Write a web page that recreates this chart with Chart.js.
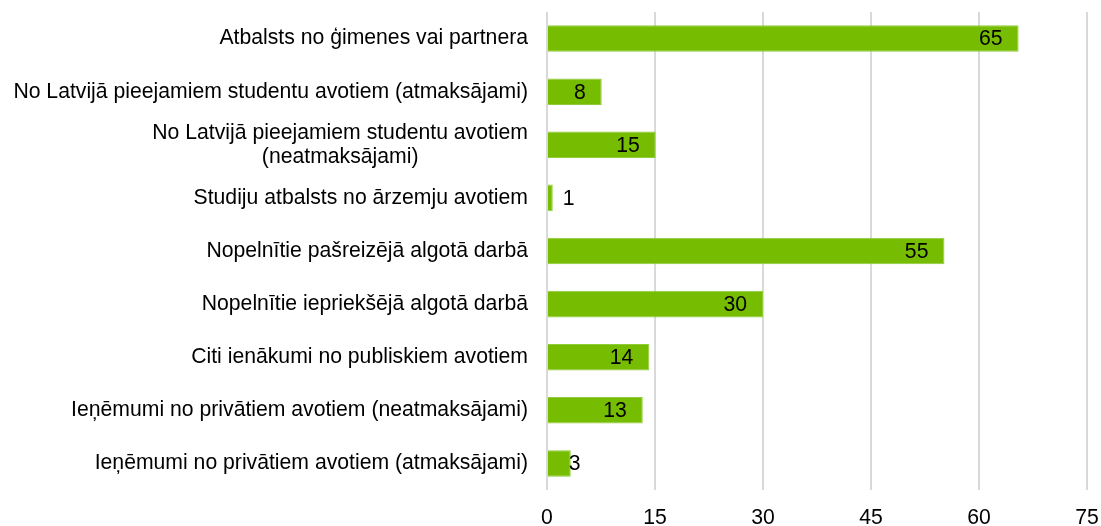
<!DOCTYPE html>
<html>
<head>
<meta charset="utf-8">
<script src="https://cdn.jsdelivr.net/npm/chart.js@4"></script>
<style>
  html, body { margin: 0; padding: 0; background: #fff; }
  #wrap { width: 1101px; height: 526px; }
</style>
</head>
<body>
<div id="wrap"><canvas id="chart" width="1101" height="526"></canvas></div>
<script>
// categories (top to bottom)
const categories = [
    ["Atbalsts no ģimenes vai partnera"],
    ["No Latvijā pieejamiem studentu avotiem (atmaksājami)"],
    ["No Latvijā pieejamiem studentu avotiem", "(neatmaksājami)"],
    ["Studiju atbalsts no ārzemju avotiem"],
    ["Nopelnītie pašreizējā algotā darbā"],
    ["Nopelnītie iepriekšējā algotā darbā"],
    ["Citi ienākumi no publiskiem avotiem"],
    ["Ieņēmumi no privātiem avotiem (neatmaksājami)"],
    ["Ieņēmumi no privātiem avotiem (atmaksājami)"]
];
const values = [65.5, 7.6, 15.1, 0.8, 55.2, 30.0, 14.2, 13.3, 3.3];
const valueLabels = ["65", "8", "15", "1", "55", "30", "14", "13", "3"];
const xTicks = [0, 15, 30, 45, 60, 75];

const FONT = '"Liberation Sans", Arial, sans-serif';
const FONT_SIZE = 21.2;

// draws category labels (centred when wrapped) and the value labels
const labelPlugin = {
    id: "labels",
    afterDatasetsDraw(chart) {
        const ctx = chart.ctx;
        const yScale = chart.scales.y;
        ctx.save();
        ctx.font = FONT_SIZE + "px " + FONT;
        ctx.fillStyle = "#000";
        ctx.textBaseline = "middle";

        const right = chart.chartArea.left - 19;
        categories.forEach((lines, i) => {
            const y = yScale.getPixelForTick(i);
            const lh = 24;
            const widths = lines.map(l => ctx.measureText(l).width);
            const maxW = Math.max(...widths);
            const cx = right - maxW / 2;
            lines.forEach((l, j) => {
                ctx.textAlign = lines.length > 1 ? "center" : "right";
                const ly = y + (j - (lines.length - 1) / 2) * lh;
                ctx.fillText(l, lines.length > 1 ? cx : right, ly);
            });
        });

        const meta = chart.getDatasetMeta(0);
        meta.data.forEach((bar, i) => {
            const v = values[i];
            if (v >= 5) {
                ctx.textAlign = "right";
                ctx.fillText(valueLabels[i], bar.x - 16, bar.y + 1);
            } else {
                ctx.textAlign = "left";
                ctx.fillText(valueLabels[i], bar.x + (v < 2 ? 10 : -2), bar.y + 1);
            }
        });
        ctx.restore();
    }
};

new Chart(document.getElementById("chart"), {
    type: "bar",
    data: {
        labels: categories,
        datasets: [{
            data: values,
            backgroundColor: "#76bc00",
            borderColor: "#8fcc3a",
            borderWidth: 1,
            categoryPercentage: 1,
            barPercentage: 0.5
        }]
    },
    options: {
        indexAxis: "y",
        responsive: false,
        animation: false,
        layout: { padding: { top: 12, right: 0, bottom: 0, left: 0 } },
        plugins: {
            legend: { display: false },
            tooltip: { enabled: false }
        },
        scales: {
            x: {
                min: 0,
                max: 75,
                afterBuildTicks: s => { s.ticks = xTicks.map(v => ({ value: v })); },
                afterFit: s => { s.height = 36; s.paddingRight = 14; s.paddingLeft = 0; },
                grid: { color: "#d9d9d9", lineWidth: 2, drawTicks: false },
                border: { display: false },
                ticks: {
                    color: "#000",
                    font: { family: FONT, size: FONT_SIZE },
                    padding: 15
                }
            },
            y: {
                afterFit: s => { s.width = 547; },
                grid: { display: false },
                border: { display: false },
                ticks: { display: false }
            }
        }
    },
    plugins: [labelPlugin]
});
</script>
</body>
</html>
